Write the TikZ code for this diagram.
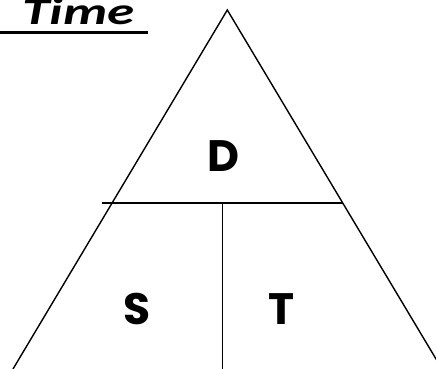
\documentclass[tikz,border=0pt]{standalone}
\usepackage{fontspec}
\newfontfamily\titlefont{Carlito}
\newfontfamily\letterfont{Poppins}
\begin{document}
\begin{tikzpicture}[x=1pt,y=1pt,
  edge/.style={line width=1.4pt,line join=miter},
  letter/.style={font=\letterfont\bfseries\fontsize{44}{44}\selectfont,inner sep=0pt,anchor=center},
  titletext/.style={font=\titlefont\bfseries\itshape\fontsize{38}{38}\selectfont,inner sep=0pt,anchor=base west}]
\useasboundingbox (0,0) rectangle (436,369);
\clip (0,0) rectangle (436,369);
\coordinate (apex) at (227.3,359);
\coordinate (bl) at (13,0);
\coordinate (br) at (442,0);
\coordinate (hl) at (102,166);
\coordinate (hr) at (342.7,166);
\coordinate (vt) at (222.7,166);
\coordinate (vb) at (222.7,0);
\draw[edge] (bl) -- (apex) -- (br);
\draw[edge] (hl) -- (hr);
\draw[edge] (vt) -- (vb);
\node[letter] (d) at (223,213) {D};
\node[letter] (s) at (137,60) {S};
\node[letter] (t) at (281,60) {T};
\node[titletext,xscale=1.45] (title) at (22,344) {Time};
\coordinate (ul) at (-5,336.5);
\coordinate (ur) at (148,336.5);
\draw[line width=3pt] (ul) -- (ur);
\end{tikzpicture}
\end{document}
